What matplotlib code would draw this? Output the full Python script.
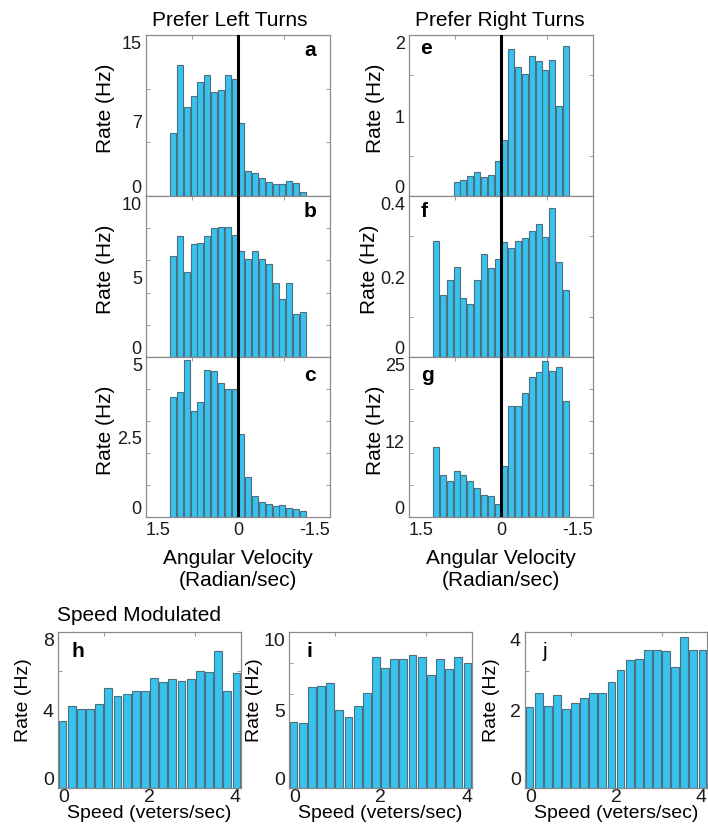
import numpy as np
import matplotlib
matplotlib.use('Agg')
import matplotlib.pyplot as plt

plt.rcParams['font.family'] = ['Liberation Sans', 'DejaVu Sans']

# Angular velocity bins (rad/s), left to right on the axis: +1.5 ... -1.5
ang_bins = np.linspace(1.06, -1.06, 20)
# Speed bins (m/s)
speed_bins = np.arange(0.1, 4.0, 0.2)

# Prefer left turns
rate_a = [5.9, 12.2, 8.3, 9.3, 10.6, 11.3, 9.7, 9.9, 11.3, 10.9,
          6.8, 2.3, 2.1, 1.7, 1.3, 1.1, 1.1, 1.4, 1.2, 0.4]
rate_b = [6.3, 7.5, 5.3, 7.0, 7.1, 7.5, 8.0, 8.1, 8.1, 7.6,
          6.6, 6.1, 6.6, 6.1, 5.8, 4.6, 3.6, 4.6, 2.7, 2.8]
rate_c = [3.75, 3.9, 4.9, 3.3, 3.6, 4.6, 4.55, 4.2, 4.0, 4.0,
          2.6, 1.25, 0.65, 0.47, 0.42, 0.35, 0.36, 0.28, 0.25, 0.18]

# Prefer right turns (panel e has no data in the first 3 bins)
rate_e = [0.18, 0.2, 0.25, 0.30, 0.24, 0.26, 0.44,
          0.69, 1.82, 1.6, 1.52, 1.74, 1.68, 1.56, 1.69, 1.12, 1.86]
rate_f = [0.287, 0.153, 0.191, 0.224, 0.146, 0.131, 0.191, 0.255, 0.222, 0.243,
          0.285, 0.272, 0.288, 0.296, 0.312, 0.33, 0.297, 0.371, 0.237, 0.167]
rate_g = [10.9, 6.6, 5.7, 7.2, 6.5, 5.6, 4.5, 3.5, 3.3, 2.1,
          8.0, 17.4, 17.4, 19.3, 21.9, 22.6, 24.4, 22.8, 23.4, 18.2]

# Speed modulated
rate_h = [3.44, 4.2, 4.05, 4.05, 4.3, 5.13, 4.7, 4.8, 5.0, 5.0,
          5.65, 5.42, 5.6, 5.5, 5.6, 6.0, 5.95, 7.05, 5.0, 5.9]
rate_i = [4.2, 4.15, 6.5, 6.55, 6.75, 5.0, 4.55, 5.25, 6.1, 8.4,
          7.7, 8.3, 8.3, 8.55, 8.4, 7.25, 8.25, 7.6, 8.4, 8.0]
rate_j = [2.07, 2.44, 2.1, 2.39, 2.03, 2.17, 2.32, 2.44, 2.43, 2.71,
          3.02, 3.28, 3.32, 3.54, 3.54, 3.52, 3.1, 3.87, 3.54, 3.54]

BAR = '#38c2ee'
EDGE = '#4d6f7e'
SPINE = '#8a8a8a'

W, H = 708, 829
fig = plt.figure(figsize=(W / 100, H / 100), dpi=100)


def px_axes(l, t, r, b):
    return fig.add_axes([l / W, 1 - b / H, (r - l) / W, (b - t) / H])


def style(ax, ytop, ylabels, yminor, letter, lpos, bold=True, lsize=15, tsize=13):
    ax.set_ylim(0, ytop)
    vals = [float(v) for v in ylabels]
    ax.set_yticks(vals, ylabels)
    ax.set_yticks(yminor, minor=True)
    ax.tick_params(which='major', length=0, labelsize=tsize, pad=3, colors='#1a1a1a')
    ax.tick_params(which='minor', length=3, direction='in', color=SPINE,
                   left=True, right=True, top=True, bottom=True)
    labs = ax.get_yticklabels()
    labs[0].set_verticalalignment('bottom')
    labs[-1].set_verticalalignment('top')
    for s in ax.spines.values():
        s.set_color(SPINE)
        s.set_linewidth(0.9)
    ax.set_ylabel('Rate (Hz)', fontsize=lsize)
    ax.text(lpos[0], lpos[1], letter, transform=ax.transAxes, fontsize=15,
            fontweight='bold' if bold else 'normal', ha='center', va='center')


def xstyle(ax, xlim, xt, xl, xminor, tsize):
    ax.set_xlim(*xlim)
    ax.set_xticks(xt, xl)
    ax.set_xticks(xminor, minor=True)
    labs = ax.get_xticklabels()
    labs[0].set_horizontalalignment('left')
    labs[-1].set_horizontalalignment('right')
    ax.tick_params(axis='x', which='major', labelsize=tsize)


# ---- angular velocity panels ----
left_col = (146, 330)
right_col = (409, 593)
rows = [(36, 197), (197, 358), (358, 518)]

panels = [
    (left_col, rows[0], ang_bins, rate_a, 15, ['0', '7', '15'], [5, 10], 'a', (0.89, 0.91)),
    (left_col, rows[1], ang_bins, rate_b, 10, ['0', '5', '10'], [2, 4, 6, 8], 'b', (0.89, 0.91)),
    (left_col, rows[2], ang_bins, rate_c, 5, ['0', '2.5', '5'], [1, 2, 3, 4], 'c', (0.89, 0.89)),
    (right_col, rows[0], ang_bins[3:], rate_e, 2, ['0', '1', '2'], [0.5, 1, 1.5], 'e', (0.09, 0.92)),
    (right_col, rows[1], ang_bins, rate_f, 0.4, ['0', '0.2', '0.4'], [0.1, 0.2, 0.3], 'f', (0.08, 0.91)),
    (right_col, rows[2], ang_bins, rate_g, 25, ['0', '12', '25'], [5, 10, 15, 20], 'g', (0.1, 0.89)),
]

for (l, r), (t, b), x, y, ytop, ylab, ymin, letter, lpos in panels:
    ax = px_axes(l, t, r, b)
    ax.bar(x, y, width=0.098, color=BAR, edgecolor=EDGE, linewidth=0.8, zorder=2)
    ax.axvline(0, color='k', lw=2.2, zorder=3)
    style(ax, ytop, ylab, ymin, letter, lpos)
    if l == left_col[0]:
        lx = -0.17
    elif letter == 'f':
        lx = -0.165
    else:
        lx = -0.13
    ax.yaxis.set_label_coords(lx, 0.55)
    xstyle(ax, (1.5, -1.5), [1.5, 0, -1.5], ['1.5', '0', '-1.5'], [0.75, -0.75], 13)
    if letter in ('c', 'g'):
        ax.set_xlabel('Angular Velocity\n(Radian/sec)', fontsize=15, labelpad=7)
    else:
        ax.tick_params(axis='x', which='major', labelbottom=False)

fig.text(230 / W, 1 - 20 / H, 'Prefer Left Turns', fontsize=15, ha='center', va='center')
fig.text(500 / W, 1 - 20 / H, 'Prefer Right Turns', fontsize=15, ha='center', va='center')

# ---- speed panels ----
speed_panels = [
    (58, 241, rate_h, 8, ['0', '4', '8'], [2, 4, 6], 'h', True),
    (289, 472, rate_i, 10, ['0', '5', '10'], [2, 4, 6, 8], 'i', True),
    (525, 707, rate_j, 4, ['0', '2', '4'], [1, 2, 3], 'j', False),
]
for l, r, y, ytop, ylab, ymin, letter, bold in speed_panels:
    ax = px_axes(l, 633, r, 789)
    ax.bar(speed_bins, y, width=0.17, color=BAR, edgecolor=EDGE, linewidth=0.8, zorder=2)
    style(ax, ytop, ylab, ymin, letter, (0.11, 0.88), bold=bold, lsize=14, tsize=14)
    ax.yaxis.set_label_coords(-0.14, 0.57)
    xstyle(ax, (0, 4), [0, 2, 4], ['0', '2', '4'], [1, 2, 3], 14)
    ax.tick_params(axis='x', which='major', pad=0)
    ax.set_xlabel('Speed (veters/sec)', fontsize=14, labelpad=-1)

fig.text(57 / W, 1 - 616 / H, 'Speed Modulated', fontsize=15, ha='left', va='center')

fig.savefig('out.png', dpi=100)
